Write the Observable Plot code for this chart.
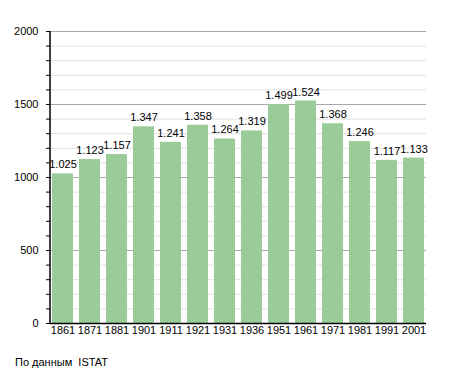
<!DOCTYPE html>
<html><head><meta charset="utf-8">
<script src="https://cdn.jsdelivr.net/npm/d3@7"></script>
<script src="https://cdn.jsdelivr.net/npm/@observablehq/plot@0.6"></script>
<style>
body{margin:0;background:#fff;font-family:"Liberation Sans",Arial,sans-serif;}
#wrap{position:relative;width:455px;height:373px;}
#cap{position:absolute;left:15px;top:356px;font-size:11px;color:#000;}
</style></head><body>
<div id="wrap"><div id="chart"></div><div id="cap">По данным&nbsp; ISTAT</div></div>
<script>
const years = ["1861","1871","1881","1901","1911","1921","1931","1936","1951","1961","1971","1981","1991","2001"];
const population = [1025,1123,1157,1347,1241,1358,1264,1319,1499,1524,1368,1246,1117,1133];
const labels = ["1.025","1.123","1.157","1.347","1.241","1.358","1.264","1.319","1.499","1.524","1.368","1.246","1.117","1.133"];
const minorTicks = d3.range(0, 2001, 100);
const majorTicks = [0,500,1000,1500,2000];

const data = years.map((y,i)=>({year:y, value:population[i], label:labels[i]}));

const chart = Plot.plot({
  width: 455, height: 340,
  marginLeft: 50, marginRight: 29, marginTop: 31, marginBottom: 17,
  style: {fontFamily: '"Liberation Sans", Arial, sans-serif', fontSize: "11px", color: "#000", background: "#fff"},
  x: {domain: years, paddingInner: 0.24, paddingOuter: 0.03, label: null},
  y: {domain: [0, 2000], label: null},
  marks: [
    Plot.ruleY(minorTicks.filter(t=>t%500!==0), {stroke: "#e0e0e0", strokeWidth: 1, strokeOpacity: 1}),
    Plot.ruleY(majorTicks.filter(t=>t>0), {stroke: "#a8a8a8", strokeWidth: 1, strokeOpacity: 1}),
    Plot.barY(data, {x: "year", y: "value", fill: "#99cc99"}),
    Plot.text(data, {x: "year", y: "value", text: "label", dy: -9, fill: "#000", fontSize: 11}),
    Plot.axisY({ticks: minorTicks, tickSize: 4, tickPadding: 8, tickFormat: d => d % 500 === 0 ? String(d) : "", stroke: "#000"}),
    Plot.axisX({tickSize: 0, tickPadding: 3}),
    Plot.ruleY([0], {stroke: "#000", strokeWidth: 1.5})
  ]
});
document.getElementById("chart").appendChild(chart);
// vertical axis line along the y scale's range
const ys = chart.scale("y");
const xs = chart.scale("x");
d3.select(chart).append("line")
  .attr("x1", xs.range[0]).attr("x2", xs.range[0])
  .attr("y1", ys.apply(2000)).attr("y2", ys.apply(0))
  .attr("stroke","#000").attr("stroke-width",1.5);
</script>
</body></html>
